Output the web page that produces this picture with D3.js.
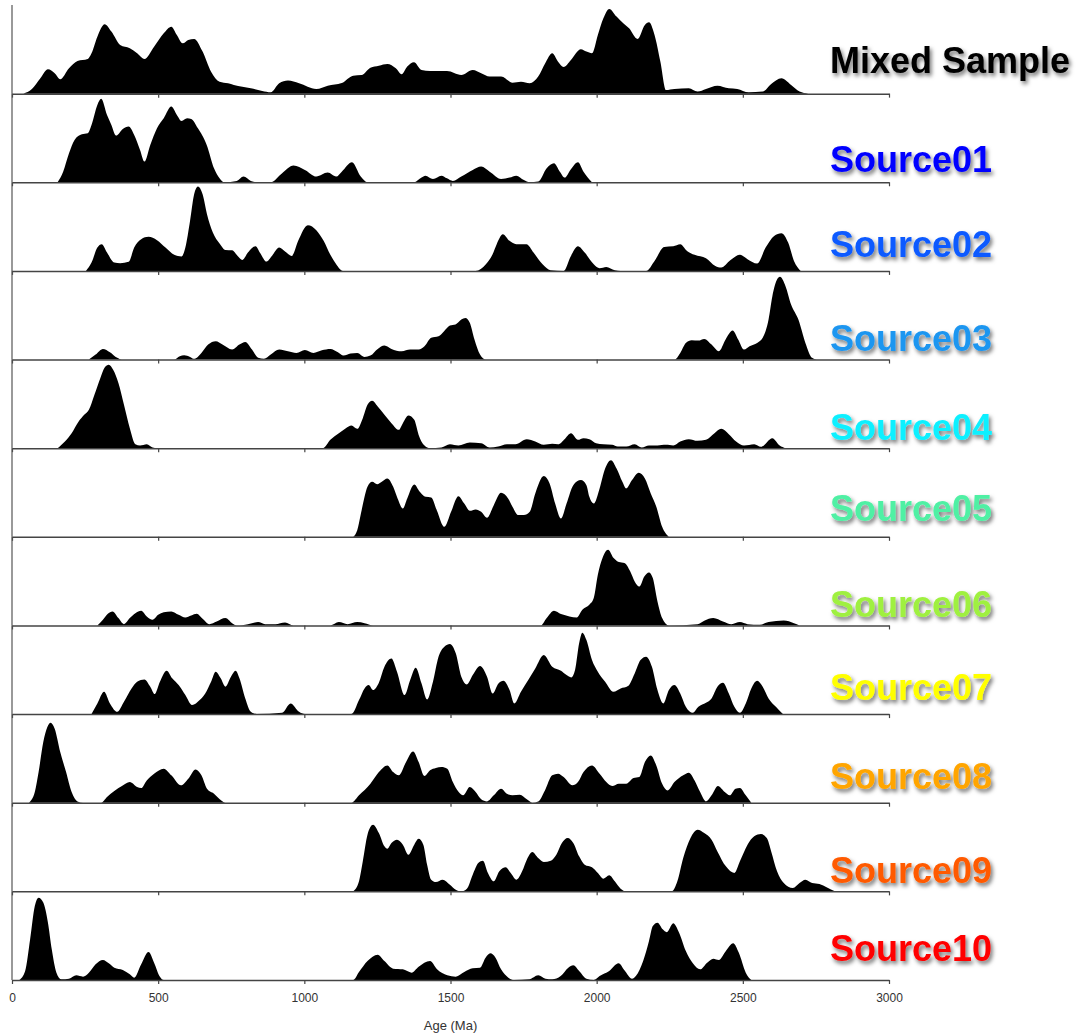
<!DOCTYPE html>
<html>
<head>
<meta charset="utf-8">
<script src="https://d3js.org/d3.v7.min.js"></script>
<style>
	body { margin: 0; background: #fff; }
</style>
</head>
<body>
<div id="fig_kde"></div>
<script>
	// panel names, top to bottom, and the colour of each label
	var sampleNames = ["Mixed Sample", "Source01", "Source02", "Source03", "Source04", "Source05",
		"Source06", "Source07", "Source08", "Source09", "Source10"];
	var labelColors = ["#000000", "#0000ff", "#0a5aff", "#1e96f0", "#10f0ff", "#4ff0a4",
		"#9ff040", "#ffff00", "#ffa500", "#ff5a00", "#ff0000"];
	var ageTicks = [0, 500, 1000, 1500, 2000, 2500, 3000];

	// density curves: [age (Ma), density in % of panel height]
	var mixedSample = [[39,0],[68,5.3],[97,17.3],[123,27.5],[146,23],[165,16.2],[195,28.6],[224,36.9],[259,39.1],[272,45.5],[292,64.3],[317,78.3],[340,70],[370,54.9],[403,51.2],[428,45.5],[453,39.1],[486,53],[519,68.1],[545,75.6],[564,66.2],[584,56.8],[603,60.6],[623,61.7],[652,47.4],[681,24.8],[710,13.5],[739,11.7],[759,9.8],[788,7.9],[817,6],[856,3],[885,1.5],[914,11.7],[944,14.7],[982,11.7],[1041,5.3],[1080,9],[1128,12],[1167,20.3],[1196,21],[1226,29.3],[1255,31.6],[1284,33.5],[1313,28.6],[1333,21.8],[1352,30.5],[1375,35.4],[1401,26.7],[1430,25.6],[1488,25.6],[1537,21.1],[1576,26.7],[1605,23],[1634,19.2],[1673,19.2],[1712,12.4],[1741,13.5],[1771,11.7],[1800,19.2],[1824,34.2],[1848,45.5],[1868,36.1],[1887,30.1],[1912,38],[1946,50],[1965,47.4],[1984,45.5],[2004,66.2],[2023,85],[2043,95.6],[2068,86.9],[2091,79.4],[2111,73.7],[2140,61.7],[2165,77.5],[2179,80.5],[2198,66.2],[2218,36.1],[2237,4.1],[2266,5.3],[2315,6],[2345,2.3],[2374,5.3],[2413,9],[2452,6],[2481,5.3],[2520,1.5],[2568,2.3],[2597,10.9],[2632,17.3],[2665,9.8],[2694,2.3],[2724,0]];
	var source01 = [[156,0],[175,12],[195,32.7],[214,47.8],[239,54.2],[259,55.3],[272,64.7],[292,87.3],[305,94.1],[325,76],[340,64.7],[356,52.7],[379,60.2],[399,62.8],[418,53.4],[438,36.5],[453,23.3],[473,42.1],[496,60.9],[519,72.2],[545,85.4],[564,76],[580,69.2],[599,72.2],[613,71.5],[636,60.9],[666,42.1],[691,15.8],[710,4.5],[726,0],[769,1.5],[792,6.4],[817,1.5],[837,0],[885,0],[924,10.2],[963,18.8],[1002,13.9],[1041,6.4],[1080,10.9],[1109,6.4],[1128,12],[1163,22.6],[1193,6.4],[1216,0],[1375,0],[1401,5.3],[1414,7.5],[1440,3.8],[1469,7.5],[1488,4.5],[1508,1.5],[1537,6.4],[1576,13.9],[1605,17.7],[1634,12],[1673,3.8],[1702,5.3],[1725,7.5],[1751,2.6],[1771,0],[1800,0.8],[1829,15.8],[1854,21.4],[1874,12],[1891,5.3],[1910,13.9],[1936,22.6],[1955,12],[1984,0]];
	var source02 = [[253,0],[272,9.4],[292,26.3],[307,30.1],[325,20.7],[350,9.4],[370,8.7],[399,10.2],[418,26.3],[442,35.7],[467,38.4],[496,34.6],[525,26.3],[555,18.1],[580,16.2],[593,26.3],[609,56.4],[623,86.5],[636,95.2],[652,86.5],[667,64],[687,43.3],[710,30.9],[730,23.7],[753,23.3],[772,16.9],[788,12.4],[807,20.7],[833,27.8],[850,19.6],[870,10.5],[889,16.9],[914,26.3],[934,21.8],[957,16.9],[979,33.9],[1012,51.5],[1041,45.9],[1066,33.9],[1089,18.1],[1109,7.5],[1132,0],[1586,0],[1621,7.5],[1644,18.8],[1658,30.1],[1679,41.4],[1702,33.9],[1725,30.1],[1760,30.1],[1784,20.7],[1815,7.5],[1842,0.8],[1887,0],[1912,16.9],[1936,27.8],[1959,20.7],[1990,7.5],[2010,3],[2033,4.5],[2062,0.8],[2082,0],[2169,0],[2198,11.3],[2231,27.1],[2262,27.8],[2286,30.1],[2309,22.6],[2335,18.1],[2374,14.3],[2406,5.6],[2426,3.8],[2457,12],[2490,18.1],[2516,13.2],[2549,8.3],[2578,26.3],[2607,39.5],[2632,42.5],[2655,32],[2675,11.3],[2698,0]];
	var source03 = [[263,0],[286,5.6],[311,12],[335,8.3],[360,1.9],[375,0],[554,0],[574,3.8],[589,4.9],[609,3],[623,0.8],[648,7.5],[671,16.9],[697,20.7],[720,16.9],[753,11.3],[778,16.9],[798,19.9],[821,11.3],[842,1.9],[862,0.8],[885,5.6],[914,11.3],[944,9.4],[973,7.5],[1002,10.9],[1031,7.5],[1060,10.5],[1089,12],[1115,8.3],[1134,4.5],[1158,6.8],[1181,7.5],[1206,3],[1226,4.5],[1251,12],[1274,15.8],[1298,12],[1333,9.4],[1362,11.3],[1391,11.3],[1411,15],[1434,24.5],[1459,26.3],[1478,32],[1498,38.4],[1517,39.5],[1537,45.1],[1551,47],[1566,41.4],[1582,22.6],[1601,5.6],[1621,0],[2266,0],[2286,7.5],[2305,18.8],[2325,21.8],[2348,21.4],[2368,23.3],[2393,16.9],[2418,9.4],[2441,22.6],[2465,32.7],[2484,22.6],[2504,11.3],[2523,15],[2549,18.8],[2568,24.5],[2588,45.1],[2601,71.5],[2617,90.3],[2627,93.3],[2646,82.8],[2665,62.1],[2690,45.1],[2714,18.8],[2737,1.9],[2753,0]];
	var source04 = [[156,0],[181,7.5],[204,16.9],[228,30.1],[247,37.6],[263,43.3],[282,60.2],[302,79],[317,91],[331,94.1],[346,88.4],[364,73.4],[383,48.9],[403,22.6],[422,4.5],[438,3],[461,4.5],[481,0.8],[496,0],[1064,0],[1089,9.4],[1118,16.9],[1142,22.6],[1161,25.6],[1181,21.8],[1200,33.9],[1216,48.9],[1232,53.4],[1251,47],[1274,37.6],[1298,28.2],[1323,20.7],[1337,28.2],[1356,36.9],[1376,32],[1391,15],[1411,3],[1430,0],[1469,0.8],[1498,4.5],[1527,3],[1566,6.4],[1605,5.6],[1634,0.8],[1663,1.9],[1693,4.5],[1722,4.5],[1761,10.2],[1790,7.5],[1819,3.8],[1848,4.9],[1868,4.5],[1891,10.5],[1912,16.9],[1936,9.4],[1955,11.3],[1975,10.2],[1998,5.6],[2023,4.5],[2053,3.8],[2072,1.9],[2101,1.9],[2130,4.5],[2154,0.8],[2179,3],[2208,3],[2237,3.8],[2262,3],[2286,7.5],[2315,10.2],[2345,8.3],[2374,9.4],[2403,16.9],[2426,21.8],[2452,15.8],[2477,7.5],[2504,3],[2539,4.5],[2562,1.5],[2601,11.3],[2626,3],[2646,0]];
	var source05 = [[1167,0],[1181,7.5],[1196,30.1],[1216,56.4],[1232,62.1],[1249,59.4],[1265,62.1],[1284,65.8],[1304,56.4],[1319,43.3],[1337,32],[1352,43.3],[1376,59.1],[1395,50.8],[1415,45.1],[1434,44.4],[1453,30.1],[1479,11.3],[1502,28.2],[1527,45.9],[1547,37.6],[1566,29.3],[1586,30.9],[1605,28.2],[1625,21.4],[1648,35.7],[1673,49.7],[1697,43.3],[1712,33.9],[1732,24.5],[1751,24.5],[1771,28.2],[1790,48.9],[1819,68.5],[1839,60.2],[1858,37.6],[1878,20.7],[1897,37.6],[1920,58.3],[1946,64],[1965,58.3],[1975,45.1],[1990,37.6],[2010,54.6],[2029,77.1],[2049,86.5],[2068,77.1],[2088,62.1],[2101,54.6],[2121,64],[2144,72.2],[2165,65.8],[2185,48.9],[2204,33.9],[2224,11.3],[2247,0]];
	var source06 = [[292,0],[311,6.4],[327,12.8],[344,15.8],[364,8.3],[383,1.5],[403,8.3],[422,13.9],[442,16.6],[461,10.2],[481,6.4],[500,12],[519,15],[545,15.8],[570,12],[593,9],[613,11.3],[632,13.2],[652,7.5],[675,1.5],[700,4.5],[730,8.3],[753,2.6],[769,0],[807,1.5],[842,3.8],[866,1.5],[901,1.5],[934,3.4],[963,0],[1089,0],[1118,3.8],[1148,1.5],[1181,3.8],[1206,2.6],[1235,0],[1809,0],[1829,8.3],[1854,16.6],[1878,12.8],[1907,10.2],[1932,9],[1951,17.7],[1975,23.3],[1990,30.9],[2004,57.2],[2020,76],[2039,85.4],[2058,76],[2076,71.5],[2095,70.4],[2115,60.9],[2130,49.7],[2146,44],[2163,55.3],[2179,59.8],[2192,53.4],[2208,27.1],[2224,8.3],[2247,0],[2345,1.5],[2368,5.3],[2399,8.3],[2432,4.5],[2461,1.5],[2490,3.8],[2516,1.5],[2558,0.8],[2588,3.8],[2640,5.6],[2675,2.6],[2694,0]];
	var source07 = [[272,0],[292,12],[315,25.2],[335,12],[360,2.6],[383,13.9],[409,29],[428,36.5],[453,39.1],[473,30.9],[488,22.6],[506,36.5],[529,48.9],[548,40.3],[570,32.7],[593,21.4],[616,10.2],[642,15.8],[661,23.3],[681,36.5],[697,47.8],[714,40.3],[730,30.9],[749,42.1],[765,48.9],[778,40.3],[798,17.7],[817,2.6],[837,0],[924,1.5],[953,12],[982,2.6],[1002,0],[1161,0],[1187,15.8],[1206,29],[1220,32.7],[1235,27.1],[1255,35.4],[1274,53.4],[1298,62.8],[1317,47.8],[1343,21.4],[1362,38.4],[1381,52.3],[1401,34.6],[1420,16.6],[1440,36.5],[1459,64.7],[1479,76],[1498,79],[1518,68.5],[1537,42.1],[1556,33.5],[1576,44],[1601,54.2],[1625,42.1],[1644,23.3],[1664,34.6],[1681,37.6],[1702,27.1],[1718,12],[1741,25.2],[1767,39.1],[1790,51.5],[1819,66.6],[1848,53.4],[1878,48.9],[1897,44],[1913,41.4],[1926,49.7],[1940,79.8],[1951,91.8],[1965,83.5],[1984,60.9],[2004,47.8],[2029,36.5],[2057,25.2],[2082,29],[2107,31.6],[2130,45.9],[2150,60.9],[2169,64.7],[2189,53.4],[2208,27.1],[2228,12],[2247,27.1],[2266,32.7],[2286,23.3],[2305,8.3],[2329,1.5],[2348,8.3],[2374,12.8],[2393,17.7],[2413,30.9],[2432,35.4],[2452,23.3],[2471,8.3],[2490,1.5],[2510,12],[2529,29],[2549,37.6],[2568,30.9],[2588,17.7],[2613,8.3],[2637,0]];
	var source08 = [[58,0],[78,12],[91,34.6],[107,68.5],[121,85.4],[132,90.3],[146,83.5],[165,57.2],[185,34.6],[204,12],[224,1.5],[243,0],[305,0],[325,6.4],[350,13.2],[376,18.8],[403,23.3],[428,17.7],[442,16.6],[461,25.2],[486,32.7],[519,38.4],[545,30.9],[578,19.6],[603,27.1],[628,37.6],[648,30.9],[667,15.8],[691,10.2],[716,2.6],[730,0],[1161,0],[1187,8.3],[1226,21.4],[1255,34.6],[1284,42.1],[1304,34.6],[1323,30.9],[1348,45.9],[1372,57.9],[1391,45.9],[1411,30.1],[1430,36.5],[1450,39.1],[1469,40.3],[1489,38.4],[1508,23.3],[1528,12],[1543,8.3],[1566,17.7],[1586,12],[1605,3.8],[1625,1.5],[1648,8.3],[1673,15.8],[1693,10.2],[1712,8.3],[1737,9],[1761,3.8],[1780,0],[1800,1.5],[1823,13.9],[1848,30.9],[1868,32.7],[1887,29],[1917,19.6],[1936,23.3],[1955,34.6],[1984,42.1],[2010,32.7],[2033,23.3],[2053,18.8],[2076,21.4],[2101,21.4],[2126,27.8],[2146,29],[2165,45.9],[2185,53.4],[2204,42.1],[2224,21.4],[2243,13.9],[2266,23.3],[2296,30.9],[2315,33.9],[2335,25.2],[2354,12],[2374,1.5],[2393,8.3],[2415,18.8],[2438,12],[2455,8.3],[2475,15.8],[2490,16.6],[2510,8.3],[2529,0]];
	var source09 = [[1167,0],[1187,11.3],[1200,33.9],[1216,64],[1235,75.2],[1255,65.8],[1274,50.8],[1284,48.2],[1298,54.6],[1317,58.3],[1337,52.7],[1356,41.4],[1376,52.7],[1391,59.4],[1407,52.7],[1420,30.1],[1434,13.2],[1450,10.5],[1473,13.2],[1498,7.5],[1518,1.9],[1537,0],[1556,3],[1576,18.8],[1595,32],[1611,34.6],[1628,20.7],[1648,11.3],[1667,22.6],[1689,27.1],[1706,20.7],[1726,13.2],[1745,22.6],[1761,35.7],[1780,44.4],[1800,37.6],[1819,33.1],[1843,34.6],[1862,41.4],[1881,54.6],[1901,60.2],[1920,54.6],[1940,39.5],[1959,30.1],[1984,27.1],[2004,20.7],[2023,14.3],[2043,18.1],[2062,11.3],[2082,3],[2101,0],[2257,0],[2276,11.3],[2296,37.6],[2321,60.2],[2345,69.6],[2368,65.8],[2393,58.3],[2413,45.1],[2442,28.2],[2471,20.7],[2490,33.9],[2516,52.7],[2539,62.1],[2562,64.7],[2582,60.2],[2597,45.1],[2617,22.6],[2640,9.4],[2671,3.8],[2694,9.4],[2714,13.2],[2737,9.4],[2762,8.3],[2788,4.5],[2815,0]];
	var source10 = [[25,0],[45,10.2],[62,45.9],[78,83.5],[91,92.9],[107,87.3],[123,64.7],[136,34.6],[152,8.3],[169,0.8],[195,1.5],[220,5.3],[243,3.8],[263,8.3],[286,17.7],[311,22.6],[331,18.8],[350,13.9],[379,11.3],[403,6.4],[418,2.6],[442,17.7],[467,31.6],[486,19.6],[506,3.8],[519,0],[1167,0],[1187,9],[1216,21.4],[1251,28.6],[1274,21.4],[1304,12.8],[1337,12],[1367,8.3],[1391,15],[1430,21.4],[1454,12],[1489,5.3],[1518,3.8],[1547,9],[1576,13.2],[1601,13.9],[1620,25.2],[1636,30.1],[1654,25.2],[1673,12],[1698,2.6],[1718,0],[1770,0.8],[1800,5.3],[1825,1.5],[1848,0.8],[1877,4.5],[1903,13.9],[1920,16.6],[1940,10.2],[1965,1.5],[1990,0],[2010,4.5],[2043,10.2],[2075,18.8],[2095,11],[2121,1.5],[2134,4.5],[2159,21.4],[2179,44],[2192,60.9],[2208,64.7],[2226,57.2],[2240,54],[2262,64],[2282,53.4],[2305,32.7],[2329,18.8],[2354,12],[2378,19.6],[2399,24.1],[2418,22.6],[2442,32.7],[2467,41.4],[2486,30.9],[2510,8.3],[2529,0]];

	var curves = [mixedSample, source01, source02, source03, source04, source05,
		source06, source07, source08, source09, source10];

	// label baseline inside each panel (px from the panel top)
	var labelDy = [68, 78, 75, 80, 80, 73, 80, 75, 75, 80, 70];

	var width = 1084,
		height = 1035;

	// Set dimensions for the figure
	var svg = d3.select("#fig_kde")
		.append("svg")
		.attr("width", width)
		.attr("height", height);

	// blurred grey shadow behind the labels
	var filter = svg.append("defs")
		.append("filter")
		.attr("id", "shadow")
		.attr("x", "-10%")
		.attr("y", "-40%")
		.attr("width", "125%")
		.attr("height", "190%");
	filter.append("feDropShadow")
		.attr("dx", 2)
		.attr("dy", 3)
		.attr("stdDeviation", 2.2)
		.attr("flood-color", "#000")
		.attr("flood-opacity", 0.55);

	// scales: one shared age axis, one band per panel
	var x = d3.scaleLinear().domain([0, 3000]).range([12, 889]);
	var row = d3.scaleBand().domain(sampleNames).range([5, 980]);
	var y = d3.scaleLinear().domain([0, 100]).range([row.bandwidth(), 0]);

	var area = d3.area()
		.x(function(d) { return x(d[0]); })
		.y0(y(0))
		.y1(function(d) { return y(d[1]); })
		.curve(d3.curveMonotoneX);

	var panel = svg.selectAll(".panel")
		.data(sampleNames)
		.enter()
		.append("g")
		.attr("class", "panel")
		.attr("transform", function(d) {
			return "translate(0," + row(d) + ")";
		});

	// the filled density curve
	panel.append("path")
		.datum(function(d, i) { return curves[i]; })
		.attr("d", area)
		.attr("fill", "#000");

	// left axis line of each panel
	panel.append("line")
		.attr("x1", x(0))
		.attr("x2", x(0))
		.attr("y1", 0)
		.attr("y2", row.bandwidth())
		.attr("stroke", "#555")
		.attr("stroke-width", 1.2);

	// age axis under each panel, labels only on the last one
	panel.each(function(d, i) {
		var last = i === sampleNames.length - 1;
		var g = d3.select(this).append("g")
			.attr("transform", "translate(0," + row.bandwidth() + ")")
			.call(d3.axisBottom(x)
				.tickValues(ageTicks)
				.tickSize(4)
				.tickSizeOuter(0)
				.tickPadding(9)
				.tickFormat(last ? d3.format("d") : function() { return ""; }));
		g.select(".domain").attr("stroke", "#444").attr("stroke-width", 1.5);
		g.selectAll(".tick line").attr("stroke", "#444").attr("stroke-width", 1.2);
		g.selectAll(".tick text")
			.attr("font-family", "Liberation Sans, Arial, sans-serif")
			.attr("font-size", 12)
			.attr("fill", "#333");
	});

	// panel names on the right
	panel.append("text")
		.attr("x", 830)
		.attr("y", function(d, i) { return labelDy[i]; })
		.attr("font-family", "Liberation Sans, Arial, sans-serif")
		.attr("font-weight", "bold")
		.attr("font-size", 36)
		.attr("fill", function(d, i) { return labelColors[i]; })
		.attr("filter", "url(#shadow)")
		.text(function(d) { return d; });

	// axis title
	svg.append("text")
		.attr("x", (x(0) + x(3000)) / 2)
		.attr("y", 1030)
		.style("text-anchor", "middle")
		.attr("font-family", "Liberation Sans, Arial, sans-serif")
		.attr("font-size", 13)
		.attr("fill", "#333")
		.text("Age (Ma)");
</script>
</body>
</html>
